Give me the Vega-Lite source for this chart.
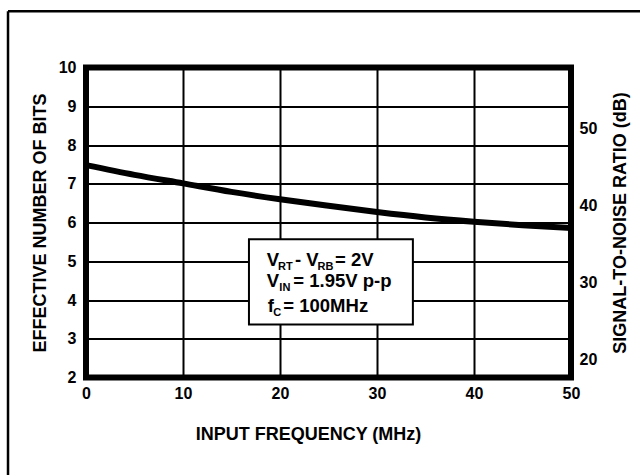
{
  "$schema": "https://vega.github.io/schema/vega-lite/v6.json",
  "width": 485,
  "height": 310,
  "autosize": {"type": "none"},
  "padding": {"left": 86, "top": 67.5, "right": 69, "bottom": 97.5},
  "background": "white",
  "config": {
    "font": "Liberation Sans",
    "view": {"stroke": "black", "strokeWidth": 6},
    "axis": {
      "domain": false,
      "ticks": false,
      "grid": false,
      "labelFont": "Liberation Sans",
      "labelFontSize": 16,
      "labelFontWeight": "bold",
      "labelColor": "black",
      "labelOverlap": false,
      "labelFlush": false,
      "titleFont": "Liberation Sans",
      "titleFontSize": 18,
      "titleFontWeight": "bold",
      "titleColor": "black"
    },
    "axisX": {"labelFlush": false}
  },
  "datasets": {
    "curve": [
      {"freq": 0, "enob": 7.48},
      {"freq": 5, "enob": 7.23},
      {"freq": 10, "enob": 7.01},
      {"freq": 15, "enob": 6.79},
      {"freq": 20, "enob": 6.6},
      {"freq": 25, "enob": 6.43},
      {"freq": 30, "enob": 6.27},
      {"freq": 35, "enob": 6.13},
      {"freq": 40, "enob": 6.02},
      {"freq": 45, "enob": 5.93},
      {"freq": 50, "enob": 5.86}
    ],
    "box": [{"x1": 16.8, "x2": 33.7, "y1": 3.37, "y2": 5.57}],
    "label": [
      {"x": 18.63, "y": 4.89, "t": "V"},
      {"x": 21.55, "y": 4.89, "t": "- V"},
      {"x": 25.67, "y": 4.89, "t": "= 2V"},
      {"x": 18.63, "y": 4.335, "t": "V"},
      {"x": 21.37, "y": 4.335, "t": "= 1.95V p-p"},
      {"x": 18.73, "y": 3.69, "t": "f"},
      {"x": 20.34, "y": 3.69, "t": "= 100MHz"}
    ],
    "subscript": [
      {"x": 19.79, "y": 4.89, "t": "RT"},
      {"x": 23.87, "y": 4.89, "t": "RB"},
      {"x": 19.93, "y": 4.335, "t": "IN"},
      {"x": 19.31, "y": 3.69, "t": "C"}
    ]
  },
  "layer": [
    {
      "layer": [
        {
          "data": {"name": "curve"},
          "mark": {"type": "line", "color": "black", "strokeWidth": 6, "interpolate": "monotone"},
          "encoding": {
            "x": {
              "field": "freq",
              "type": "quantitative",
              "scale": {"domain": [0, 50]},
              "axis": {
                "values": [0, 10, 20, 30, 40, 50],
                "grid": true,
                "gridColor": "black",
                "gridWidth": 2,
                "gridOpacity": 1,
                "labelPadding": 8,
                "labelFlush": false,
                "title": "INPUT FREQUENCY (MHz)",
                "titleX": 222,
                "titleY": 61.5,
                "titleBaseline": "alphabetic"
              }
            },
            "y": {
              "field": "enob",
              "type": "quantitative",
              "scale": {"domain": [2, 10]},
              "axis": {
                "values": [2, 3, 4, 5, 6, 7, 8, 9, 10],
                "grid": true,
                "gridColor": "black",
                "gridWidth": 2,
                "gridOpacity": 1,
                "labelPadding": 10,
                "title": "EFFECTIVE NUMBER OF BITS",
                "titleX": -41,
                "titleBaseline": "alphabetic",
                "titleAngle": 270
              }
            }
          }
        },
        {
          "data": {"name": "box"},
          "mark": {"type": "rect", "fill": "white", "stroke": "black", "strokeWidth": 2},
          "encoding": {
            "x": {"field": "x1", "type": "quantitative", "axis": {"values": [0, 10, 20, 30, 40, 50], "labelFlush": false}},
            "x2": {"field": "x2"},
            "y": {"field": "y1", "type": "quantitative", "axis": {"values": [2, 3, 4, 5, 6, 7, 8, 9, 10]}},
            "y2": {"field": "y2"}
          }
        },
        {
          "data": {"name": "label"},
          "mark": {"type": "text", "align": "left", "baseline": "alphabetic", "fontSize": 18.5, "fontWeight": "bold", "color": "black"},
          "encoding": {
            "x": {"field": "x", "type": "quantitative", "axis": {"values": [0, 10, 20, 30, 40, 50], "labelFlush": false}},
            "y": {"field": "y", "type": "quantitative", "axis": {"values": [2, 3, 4, 5, 6, 7, 8, 9, 10]}},
            "text": {"field": "t"}
          }
        },
        {
          "data": {"name": "subscript"},
          "mark": {"type": "text", "align": "left", "baseline": "alphabetic", "fontSize": 11, "fontWeight": "bold", "color": "black", "dy": 4},
          "encoding": {
            "x": {"field": "x", "type": "quantitative", "axis": {"values": [0, 10, 20, 30, 40, 50], "labelFlush": false}},
            "y": {"field": "y", "type": "quantitative", "axis": {"values": [2, 3, 4, 5, 6, 7, 8, 9, 10]}},
            "text": {"field": "t"}
          }
        },
        {
          "data": {"values": [{}]},
          "mark": {"type": "rule", "color": "black", "strokeWidth": 2.5},
          "encoding": {
            "x": {"datum": -8.04, "type": "quantitative", "axis": {"values": [0, 10, 20, 30, 40, 50], "labelFlush": false}},
            "x2": {"datum": 60},
            "y": {"datum": 11.45, "type": "quantitative", "axis": {"values": [2, 3, 4, 5, 6, 7, 8, 9, 10]}}
          }
        },
        {
          "data": {"values": [{}]},
          "mark": {"type": "rule", "color": "black", "strokeWidth": 2.5},
          "encoding": {
            "x": {"datum": -8.04, "type": "quantitative", "axis": {"values": [0, 10, 20, 30, 40, 50], "labelFlush": false}},
            "y": {"datum": 11.45, "type": "quantitative", "axis": {"values": [2, 3, 4, 5, 6, 7, 8, 9, 10]}},
            "y2": {"datum": -1}
          }
        }
      ]
    },
    {
      "data": {"values": [{}]},
      "mark": {"type": "point", "opacity": 0},
      "encoding": {
        "y": {
          "datum": 20,
          "type": "quantitative",
          "scale": {"domain": [17.6, 57.9]},
          "axis": {
            "orient": "right",
            "values": [20, 30, 40, 50],
            "grid": false,
            "labelPadding": 8,
            "title": "SIGNAL-TO-NOISE RATIO (dB)",
            "titleAngle": 270,
            "titleX": 54,
            "titleBaseline": "alphabetic"
          }
        }
      }
    }
  ],
  "resolve": {"scale": {"y": "independent"}}
}
